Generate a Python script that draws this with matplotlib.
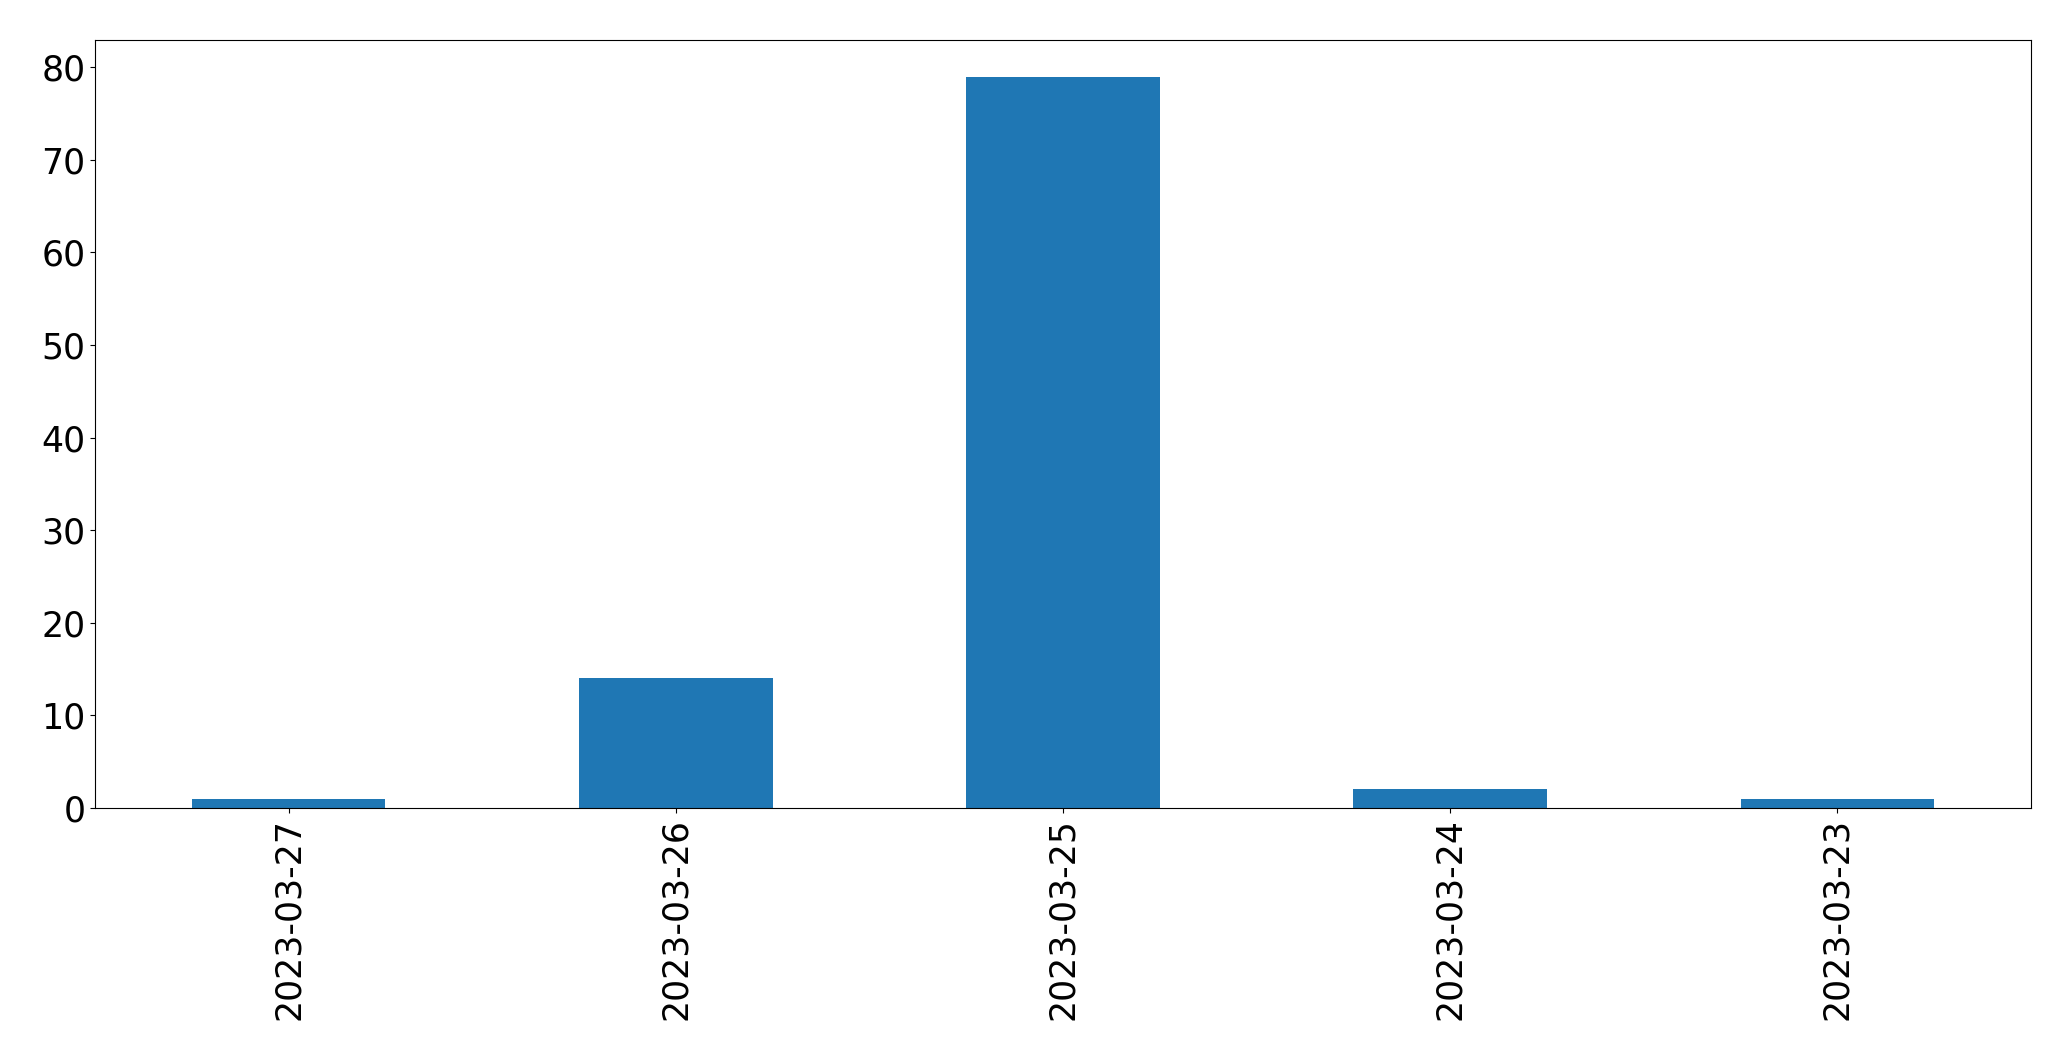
import matplotlib
matplotlib.use("Agg")
import matplotlib.pyplot as plt
import pandas as pd

dates = ["2023-03-27", "2023-03-26", "2023-03-25", "2023-03-24", "2023-03-23"]
counts = [1, 14, 79, 2, 1]

plt.rcParams["font.size"] = 25

s = pd.Series(counts, index=dates)

fig = plt.figure(figsize=(20.71, 10.61), dpi=100)
ax = fig.add_axes([95 / 2071, 1 - 808 / 1061, (2031 - 95) / 2071, (808 - 40) / 1061])
s.plot(kind="bar", ax=ax, color="#1f77b4")
ax.tick_params(axis="x", labelrotation=90)

fig.savefig("out.png", dpi=100)
